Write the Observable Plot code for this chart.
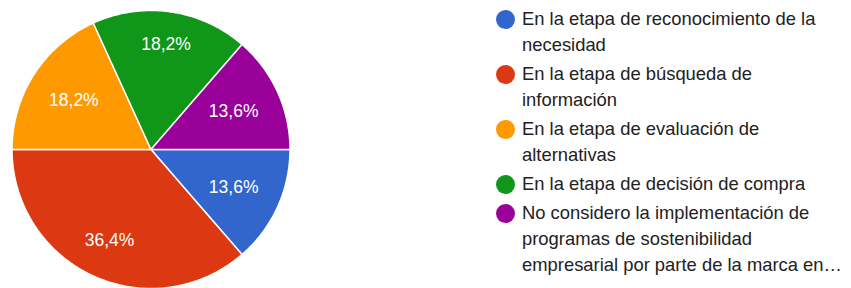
<!DOCTYPE html>
<html>
<head>
<meta charset="utf-8">
<script src="https://cdn.jsdelivr.net/npm/d3@7"></script>
<script src="https://cdn.jsdelivr.net/npm/@observablehq/plot@0.6"></script>
<style>
  html, body { margin: 0; padding: 0; background: #fff; }
  #wrap { position: relative; width: 851px; height: 288px; overflow: hidden; }
  #legend { position: absolute; left: 495.5px; top: 6px; font-family: "Liberation Sans", Arial, sans-serif; font-size: 18.4px; color: #222; }
  .item { display: flex; align-items: flex-start; margin-bottom: 3px; }
  .dot { width: 19px; height: 19px; border-radius: 50%; margin-top: 3.5px; margin-right: 7.5px; flex: none; }
  .txt { line-height: 26px; white-space: pre-line; }
</style>
</head>
<body>
<div id="wrap"><div id="chart"></div><div id="legend"></div></div>
<script>
const categories = [
  "En la etapa de reconocimiento de la\nnecesidad",
  "En la etapa de búsqueda de\ninformación",
  "En la etapa de evaluación de\nalternativas",
  "En la etapa de decisión de compra",
  "No considero la implementación de\nprogramas de sostenibilidad\nempresarial por parte de la marca en…"
];
const counts = [3, 8, 4, 4, 3];
const colors = ["#3366cc", "#dc3912", "#ff9900", "#109618", "#990099"];

const cx = 150.5, cy = 149, r = 139;
const total = d3.sum(counts);
const slices = [];
const labels = [];
let start = 0;
counts.forEach((c, i) => {
  const span = c / total * 2 * Math.PI;
  const end = start + span;
  const key = categories[i];
  slices.push({key, x: 0, y: 0});
  const steps = Math.max(2, Math.ceil(span / (Math.PI / 180)));
  for (let s = 0; s <= steps; s++) {
    const a = start + span * s / steps;
    slices.push({key, x: Math.cos(a), y: -Math.sin(a)});
  }
  const mid = (start + end) / 2;
  const ux = Math.cos(mid), uy = Math.sin(mid);
  // keep the label box a fixed distance from the rim
  const extent = Math.abs(ux) * 25 + Math.abs(uy) * 7;
  const d = (r - 22.5 - extent) / r;
  labels.push({key, x: d * ux, y: -d * uy,
    text: (c / total * 100).toFixed(1).replace(".", ",") + "%"});
  start = end;
});

const chart = Plot.plot({
  width: 470,
  height: 288,
  margin: 0,
  x: {domain: [-1, 1], range: [cx - r, cx + r], axis: null},
  y: {domain: [-1, 1], range: [cy + r, cy - r], axis: null},
  color: {domain: categories, range: colors},
  marks: [
    Plot.line(slices, {x: "x", y: "y", z: "key", fill: "key", stroke: "white", strokeWidth: 1.5, curve: "linear-closed"}),
    Plot.text(labels, {x: "x", y: "y", text: "text", fill: "white", fontSize: 17.5, fontFamily: "'Liberation Sans', Arial, sans-serif"})
  ]
});
document.getElementById("chart").appendChild(chart);

const legend = d3.select("#legend");
categories.forEach((c, i) => {
  const it = legend.append("div").attr("class", "item");
  it.append("div").attr("class", "dot").style("background", colors[i]);
  it.append("div").attr("class", "txt").text(c);
});
</script>
</body>
</html>
